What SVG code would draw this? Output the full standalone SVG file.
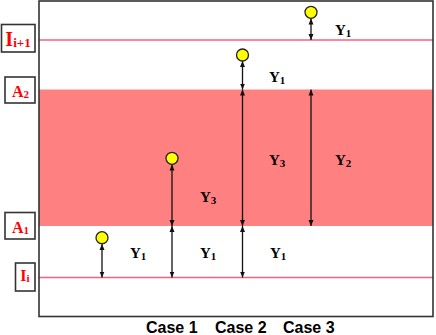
<svg xmlns="http://www.w3.org/2000/svg" width="436" height="335" viewBox="0 0 436 335">
<style>
.lvl{stroke:#F0607F;stroke-width:1.3;fill:none}
.box{fill:#fff;stroke:#333;stroke-width:1.6}
.lab{font-family:"Liberation Serif",serif;font-weight:bold;fill:#FF0000;text-anchor:middle}
.yl{font-family:"Liberation Serif",serif;font-weight:bold;font-size:15px;fill:#000}
.ar{stroke:#111;stroke-width:1.3;fill:none;marker-start:url(#ah);marker-end:url(#ah)}
.ball{fill:#FFFF00;stroke:#222;stroke-width:1.3}
.case{font-family:"Liberation Sans",sans-serif;font-weight:bold;font-size:16px;fill:#000}
</style>
<defs>
<marker id="ah" viewBox="0 0 6 6" refX="6" refY="3" markerWidth="6" markerHeight="6" markerUnits="userSpaceOnUse" orient="auto-start-reverse">
<path d="M0,0.5 L6,3 L0,5.5 z" fill="#111"/>
</marker>
</defs>
<rect x="39" y="1" width="394" height="315.5" fill="#fff"/>
<rect x="39" y="89.5" width="394" height="136.5" fill="#FF8080"/>
<line class="lvl" x1="39" y1="40" x2="433" y2="40"/>
<line class="lvl" x1="39" y1="277.5" x2="433" y2="277.5"/>
<rect x="39" y="1" width="394" height="315.5" fill="none" stroke="#333" stroke-width="1.6"/>
<g id="label-Ii1"><rect class="box" x="1.5" y="24.5" width="33.5" height="27.5"/><text class="lab" x="18" y="45.5" font-size="20">I<tspan font-size="13" dy="1">i+1</tspan></text></g>
<g id="label-A2"><rect class="box" x="5" y="77" width="30" height="26"/><text class="lab" x="20.5" y="97" font-size="16">A<tspan font-size="11" dy="1">2</tspan></text></g>
<g id="label-A1"><rect class="box" x="5" y="212.5" width="30" height="26.5"/><text class="lab" x="20.5" y="233" font-size="16">A<tspan font-size="11" dy="1">1</tspan></text></g>
<g id="label-Ii"><rect class="box" x="15.5" y="263" width="19.5" height="28"/><text class="lab" x="25" y="281" font-size="16">I<tspan font-size="11" dy="1">i</tspan></text></g>
<g id="connectors">
<line class="ar" x1="102" y1="244" x2="102" y2="277.5"/>
<line class="ar" x1="172" y1="164.5" x2="172" y2="226"/>
<line class="ar" x1="172" y1="226" x2="172" y2="277.5"/>
<line class="ar" x1="242.5" y1="61" x2="242.5" y2="89.5"/>
<line class="ar" x1="242.5" y1="89.5" x2="242.5" y2="226"/>
<line class="ar" x1="242.5" y1="226" x2="242.5" y2="277.5"/>
<line class="ar" x1="311" y1="18.5" x2="311" y2="40"/>
<line class="ar" x1="311" y1="89.5" x2="311" y2="226"/>
</g>
<g id="ball-case1a"><circle class="ball" cx="102" cy="237.7" r="6"/></g>
<g id="ball-case1b"><circle class="ball" cx="172" cy="158.3" r="6"/></g>
<g id="ball-case2"><circle class="ball" cx="242.5" cy="55" r="6"/></g>
<g id="ball-case3"><circle class="ball" cx="311" cy="12.3" r="6"/></g>
<g id="ylabels">
<text class="yl" x="335" y="35">Y<tspan font-size="11" dy="2">1</tspan></text>
<text class="yl" x="269" y="82">Y<tspan font-size="11" dy="2">1</tspan></text>
<text class="yl" x="269" y="165">Y<tspan font-size="11" dy="2">3</tspan></text>
<text class="yl" x="335" y="165">Y<tspan font-size="11" dy="2">2</tspan></text>
<text class="yl" x="200" y="202">Y<tspan font-size="11" dy="2">3</tspan></text>
<text class="yl" x="130" y="258">Y<tspan font-size="11" dy="2">1</tspan></text>
<text class="yl" x="200" y="258">Y<tspan font-size="11" dy="2">1</tspan></text>
<text class="yl" x="270" y="258">Y<tspan font-size="11" dy="2">1</tspan></text>
</g>
<text class="case" x="146" y="333">Case 1</text>
<text class="case" x="215" y="333">Case 2</text>
<text class="case" x="283" y="333">Case 3</text>
</svg>
